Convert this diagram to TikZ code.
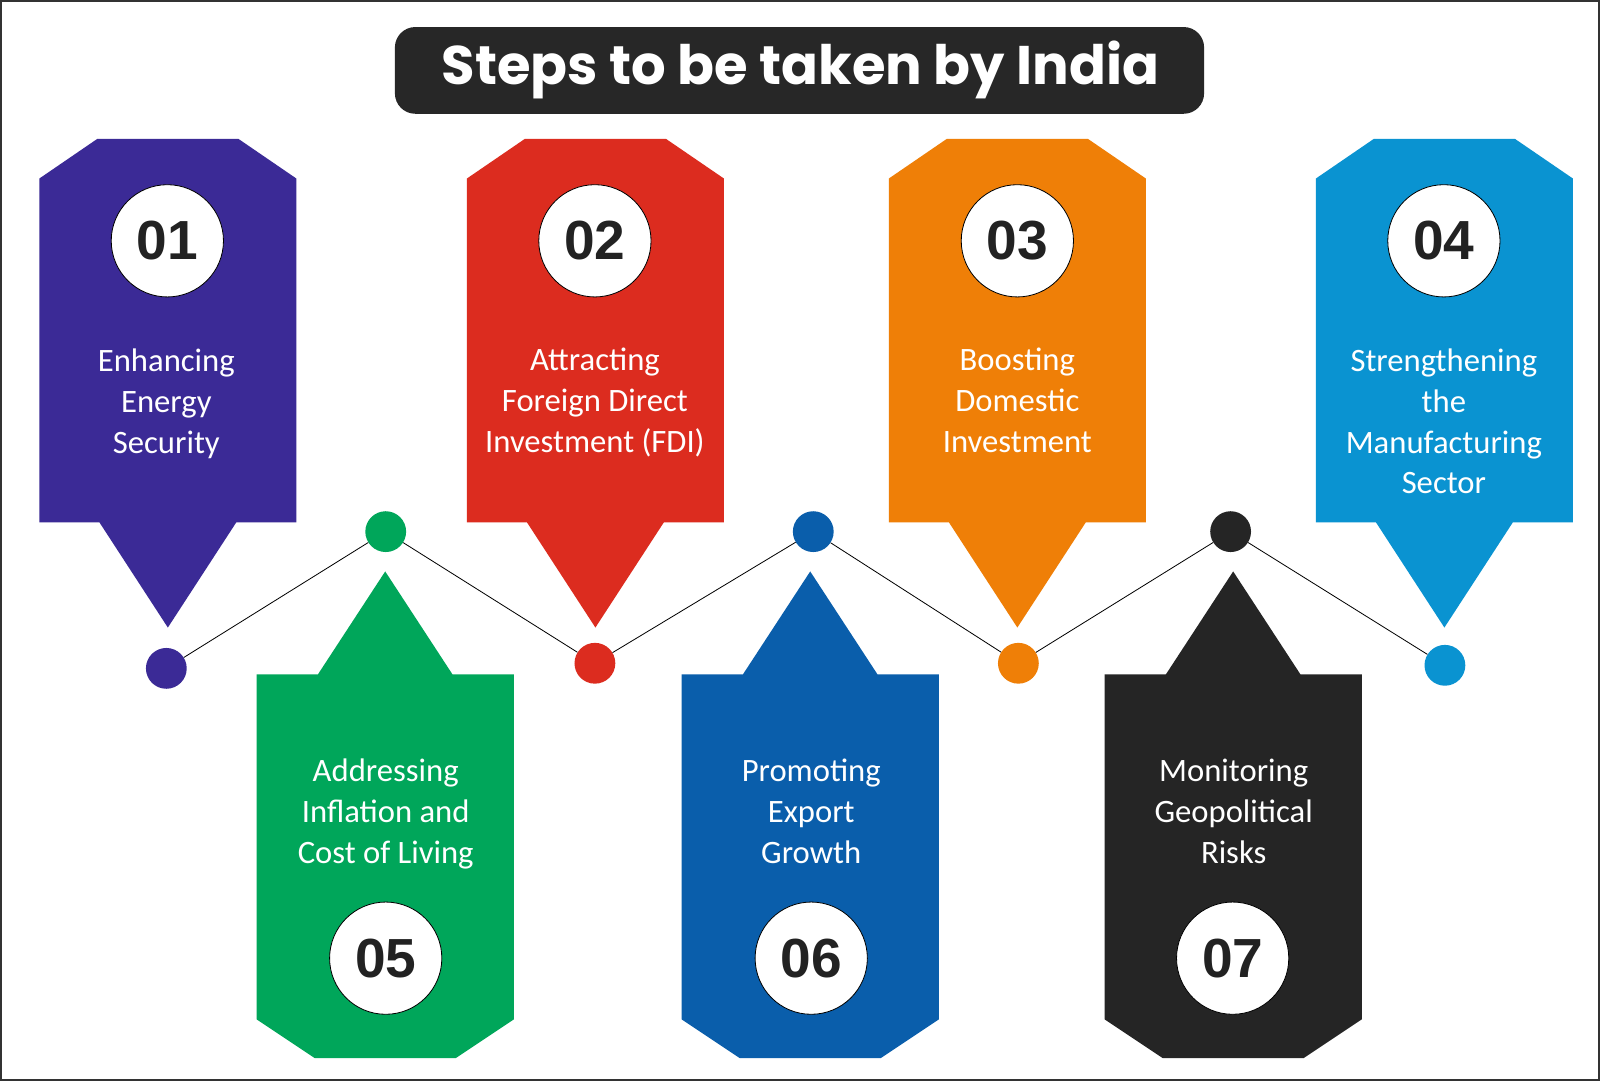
\documentclass[tikz,border=0pt]{standalone}
\usepackage{fontspec}
\newfontfamily\bodyfont{Carlito}
\newfontfamily\numfont{Liberation Sans}
\newfontfamily\titlefont{Poppins}
\definecolor{cPurple}{HTML}{3B2A96}
\definecolor{cRed}{HTML}{DC2C1F}
\definecolor{cOrange}{HTML}{EF7F07}
\definecolor{cLBlue}{HTML}{0A93D1}
\definecolor{cGreen}{HTML}{00A65A}
\definecolor{cBlue}{HTML}{0A5EAB}
\definecolor{cBlack}{HTML}{252525}
\definecolor{cTitle}{HTML}{272727}
\definecolor{cNum}{HTML}{222222}
\definecolor{cBorder}{HTML}{333333}
\newcommand\TopCard[2]{%
  \fill[#2] ({#1-69},136) -- ({#1+69},136) -- ({#1+126},175) -- ({#1+126},512)
    -- ({#1+67},512) -- (#1,615) -- ({#1-67},512) -- ({#1-126},512)
    -- ({#1-126},175) -- cycle;}
\newcommand\BotCard[2]{%
  \fill[#2] (#1,560) -- ({#1+66},661) -- ({#1+126},661) -- ({#1+126},999)
    -- ({#1+69},1037) -- ({#1-69},1037) -- ({#1-126},999) -- ({#1-126},661)
    -- ({#1-66},661) -- cycle;}
\begin{document}
\begin{tikzpicture}[x=1pt,y=-1pt,
  badge/.style={circle, fill=white, draw=black, line width=0.8pt, minimum size=110pt,
    inner sep=0pt, text=cNum, font=\numfont\bfseries\fontsize{54}{60}\selectfont},
  dot/.style={circle, minimum size=40pt, inner sep=0pt},
  lbl/.style={text=white, inner sep=0pt, anchor=base,
    font=\bodyfont\fontsize{32}{40}\selectfont},
  link/.style={draw=black, line width=0.8pt}]
\useasboundingbox (0,0) rectangle (1568,1059);
\fill[white] (0,0) rectangle (1568,1059);
\draw[cBorder, line width=3pt] (0,0) rectangle (1568,1059);

% title
\node[fill=cTitle, rounded corners=20pt, minimum width=793pt, minimum height=85pt,
  inner sep=0pt] (title) at (783.5,69) {};
\node[text=white, inner sep=0pt, anchor=base,
  font=\titlefont\bfseries\fontsize{53.3}{60}\selectfont] (titletext) at (784.5,83)
  {Steps to be taken by India};

% top cards
\TopCard{164.5}{cPurple}
\TopCard{583.5}{cRed}
\TopCard{997}{cOrange}
\TopCard{1415.5}{cLBlue}
% bottom cards
\BotCard{377.5}{cGreen}
\BotCard{794}{cBlue}
\BotCard{1208.5}{cBlack}

% badges
\node[badge] (n1) at (164,236) {01};
\node[badge] (n2) at (583,236) {02};
\node[badge] (n3) at (997,236) {03};
\node[badge] (n4) at (1415,236) {04};
\node[badge] (n5) at (378,939) {05};
\node[badge] (n6) at (795,939) {06};
\node[badge] (n7) at (1208,939) {07};

% labels
\node[lbl] (t1) at (163,364) {\begin{tabular}[t]{@{}c@{}}Enhancing\\Energy\\Security\end{tabular}};
\node[lbl] (t2) at (583,363) {\begin{tabular}[t]{@{}c@{}}Attracting\\Foreign Direct\\Investment (FDI)\end{tabular}};
\node[lbl] (t3) at (997,363) {\begin{tabular}[t]{@{}c@{}}Boosting\\Domestic\\Investment\end{tabular}};
\node[lbl] (t4) at (1415,364) {\begin{tabular}[t]{@{}c@{}}Strengthening\\the\\Manufacturing\\Sector\end{tabular}};
\node[lbl] (t5) at (378,766) {\begin{tabular}[t]{@{}c@{}}Addressing\\Inflation and\\Cost of Living\end{tabular}};
\node[lbl] (t6) at (795,766) {\begin{tabular}[t]{@{}c@{}}Promoting\\Export\\Growth\end{tabular}};
\node[lbl] (t7) at (1209,766) {\begin{tabular}[t]{@{}c@{}}Monitoring\\Geopolitical\\Risks\end{tabular}};

% dots
\node[dot, fill=cPurple] (d1) at (163,655) {};
\node[dot, fill=cGreen] (d5) at (378,521) {};
\node[dot, fill=cRed] (d2) at (583,650) {};
\node[dot, fill=cBlue] (d6) at (797,521) {};
\node[dot, fill=cOrange] (d3) at (998,650) {};
\node[dot, fill=cBlack] (d7) at (1206,521) {};
\node[dot, fill=cLBlue] (d4) at (1416,652) {};

\draw[link] (d1) -- (d5) -- (d2) -- (d6) -- (d3) -- (d7) -- (d4);
\end{tikzpicture}
\end{document}
